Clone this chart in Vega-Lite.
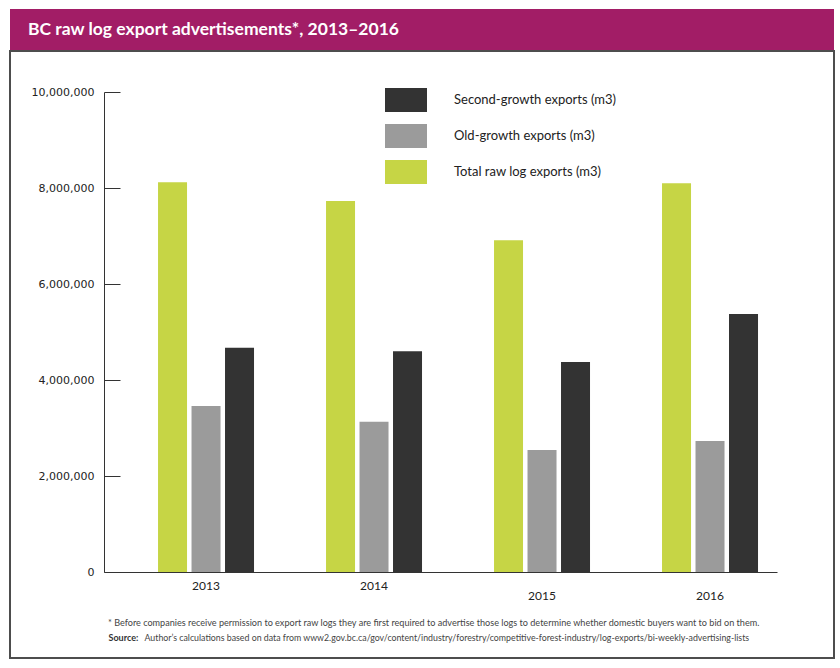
{
  "$schema": "https://vega.github.io/schema/vega-lite/v6.json",
  "background": "white",
  "padding": {"left": 9, "top": 9, "right": 0, "bottom": 0},
  "spacing": 0,
  "config": {"view": {"stroke": null}, "axis": {"grid": false}},
  "datasets": {
    "bars": [
      {"year": "2013", "series": "Total raw log exports (m3)", "value": 8120000},
      {"year": "2013", "series": "Old-growth exports (m3)", "value": 3460000},
      {"year": "2013", "series": "Second-growth exports (m3)", "value": 4670000},
      {"year": "2014", "series": "Total raw log exports (m3)", "value": 7730000},
      {"year": "2014", "series": "Old-growth exports (m3)", "value": 3130000},
      {"year": "2014", "series": "Second-growth exports (m3)", "value": 4600000},
      {"year": "2015", "series": "Total raw log exports (m3)", "value": 6910000},
      {"year": "2015", "series": "Old-growth exports (m3)", "value": 2540000},
      {"year": "2015", "series": "Second-growth exports (m3)", "value": 4375000},
      {"year": "2016", "series": "Total raw log exports (m3)", "value": 8100000},
      {"year": "2016", "series": "Old-growth exports (m3)", "value": 2730000},
      {"year": "2016", "series": "Second-growth exports (m3)", "value": 5375000}
    ]
  },
  "vconcat": [
    {
      "width": 824,
      "height": 41,
      "view": {"fill": "#a21d66", "stroke": null},
      "title": {
        "text": "BC raw log export advertisements*, 2013–2016",
        "anchor": "start",
        "frame": "group",
        "orient": "top",
        "offset": -38,
        "baseline": "middle",
        "dx": 18,
        "font": "Lato",
        "fontSize": 17.5,
        "fontWeight": "bold",
        "color": "white"
      },
      "data": {"values": [{"a": 1}]},
      "mark": {"type": "text"},
      "encoding": {"text": {"value": ""}}
    },
    {
      "width": 824,
      "height": 607,
      "view": {"stroke": "#4d4d4d", "strokeWidth": 2, "fill": "white"},
      "title": {
        "text": "* Before companies receive permission to export raw logs they are first required to advertise those logs to determine whether domestic buyers want to bid on them.",
        "anchor": "start",
        "frame": "group",
        "orient": "bottom",
        "offset": -39,
        "baseline": "top",
        "dx": 98,
        "font": "Lato",
        "fontSize": 9.1,
        "fontWeight": "normal",
        "color": "#444444"
      },
      "data": {"name": "bars"},
      "mark": {"type": "bar"},
      "encoding": {
        "x": {
          "field": "year",
          "type": "nominal",
          "scale": {"range": [94, 767], "paddingInner": 0.4286, "paddingOuter": 0.2173, "align": 0.74},
          "axis": {
            "orient": "bottom",
            "offset": -86,
            "ticks": false,
            "domainColor": "#333333",
            "domainWidth": 1,
            "labelAngle": 0,
            "labelFont": "Lato",
            "labelFontSize": 12,
            "labelColor": "#222222",
            "labelBaseline": "top",
            "labelPadding": {"condition": {"test": "datum.label == '2015' || datum.label == '2016'", "value": 18}, "value": 8},
            "title": "Source:",
            "titleFont": "Lato",
            "titleFontSize": 9,
            "titleFontWeight": "bold",
            "titleColor": "#333333",
            "titleAnchor": "start",
            "titleAlign": "left",
            "titleBaseline": "middle",
            "titleX": 98,
            "titleY": 65
          }
        },
        "xOffset": {
          "field": "series",
          "type": "nominal",
          "sort": ["Total raw log exports (m3)", "Old-growth exports (m3)", "Second-growth exports (m3)"],
          "scale": {"paddingInner": 0.134}
        },
        "y": {
          "field": "value",
          "type": "quantitative",
          "scale": {"domain": [0, 10000000], "range": [521, 41], "nice": false},
          "axis": {
            "values": [0, 2000000, 4000000, 6000000, 8000000, 10000000],
            "format": ",d",
            "offset": -94,
            "domainColor": "#333333",
            "domainWidth": 1,
            "tickColor": "#333333",
            "tickSize": -16,
            "tickWidth": 1,
            "labelPadding": 26,
            "labelFont": "DejaVu Sans",
            "labelFontSize": 11,
            "labelColor": "#222222",
            "title": "Author’s calculations based on data from www2.gov.bc.ca/gov/content/industry/forestry/competitive-forest-industry/log-exports/bi-weekly-advertising-lists",
            "titleAngle": 0,
            "titleFont": "Lato",
            "titleFontSize": 8.8,
            "titleFontWeight": "normal",
            "titleColor": "#444444",
            "titleAlign": "left",
            "titleBaseline": "middle",
            "titleAnchor": "start",
            "titleX": 40,
            "titleY": 586
          }
        },
        "color": {
          "field": "series",
          "type": "nominal",
          "scale": {
            "domain": ["Second-growth exports (m3)", "Old-growth exports (m3)", "Total raw log exports (m3)"],
            "range": ["#333333", "#9b9b9b", "#c6d545"]
          },
          "legend": {
            "orient": "none",
            "legendX": 375,
            "legendY": 70,
            "title": null,
            "symbolType": "M-1,-0.5714H1V0.5714H-1Z",
            "symbolSize": 1764,
            "symbolStrokeWidth": 0,
            "symbolOpacity": 1,
            "rowPadding": 3,
            "labelOffset": 27,
            "labelLimit": 400,
            "labelFont": "Lato",
            "labelFontSize": 13,
            "labelColor": "#222222",
            "padding": 0
          }
        }
      }
    }
  ]
}
